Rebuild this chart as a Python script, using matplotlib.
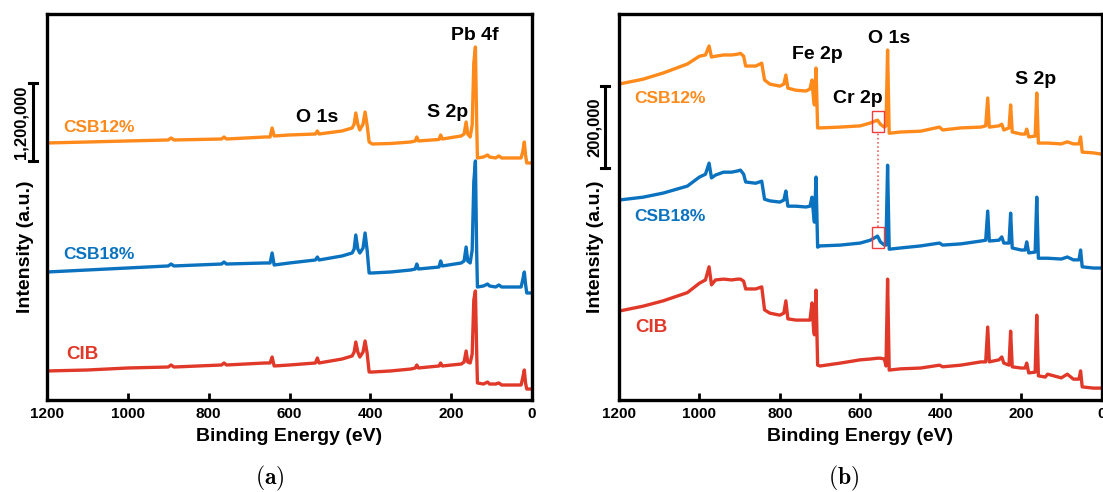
"""
XPS survey spectra of the three coatings.
(a) wide scan dominated by Pb 4f, (b) wide scan with Fe 2p / O 1s / S 2p.
"""

import matplotlib.pyplot as plt
import matplotlib.transforms as mtransforms
from matplotlib.patches import Rectangle

plt.rcParams["font.family"] = ["Liberation Sans", "DejaVu Sans"]
plt.rcParams["font.weight"] = "bold"
plt.rcParams["mathtext.fontset"] = "cm"

# 1. Data (binding energy in eV, intensity in kcounts, spectra already stacked)

# panel (a)
energy_a = [1200, 1100, 1000, 900, 893, 886, 768, 762, 756, 660, 648, 643, 638, 600,
            536, 531, 527, 470, 445, 440, 436, 431, 426, 418, 413, 408, 403, 395,
            350, 300, 289, 285, 281, 230, 226, 222, 175, 168, 163, 159, 153, 148,
            144, 140, 137, 135, 120, 110, 105, 90, 82, 75, 27, 23, 19, 16, 13, 0]

csb12_a = [3958, 3973, 3989, 4004, 4035, 4004, 4019, 4050, 4019, 4050, 4050, 4189, 4066, 4081,
           4096, 4143, 4096, 4143, 4189, 4250, 4420, 4250, 4158, 4250, 4435, 4235, 3973, 3942,
           3950, 3973, 3989, 4050, 3989, 4012, 4081, 4019, 4066, 4096, 4281, 4096, 4050, 4235,
           5190, 5436, 4312, 3727, 3742, 3773, 3742, 3727, 3758, 3727, 3727, 3819, 3973, 3773, 3650, 3650]

csb18_a = [1971, 2002, 2033, 2064, 2094, 2064, 2094, 2125, 2094, 2110, 2110, 2264, 2079, 2110,
           2156, 2202, 2156, 2218, 2264, 2325, 2541, 2325, 2264, 2341, 2572, 2310, 1956, 1956,
           1971, 2002, 2017, 2094, 2017, 2048, 2141, 2064, 2110, 2141, 2356, 2141, 2110, 2310,
           3357, 3681, 2310, 1740, 1756, 1786, 1756, 1740, 1771, 1740, 1740, 1848, 1971, 1786, 1648, 1648]

cib_a = [447, 462, 493, 508, 539, 508, 539, 570, 539, 570, 570, 662, 524, 539,
         570, 647, 570, 631, 678, 739, 893, 739, 662, 739, 909, 724, 431, 431,
         447, 477, 493, 539, 493, 524, 570, 524, 554, 585, 755, 585, 570, 708,
         1540, 1679, 770, 262, 246, 277, 246, 246, 262, 231, 231, 339, 462, 262, 169, 169]

# panel (b)
energy_b = [1200, 1140, 1090, 1030, 1000, 985, 976, 970, 960, 940, 920, 905, 898, 890, 885, 860,
            845, 838, 825, 800, 790, 785, 780, 760, 735, 725, 720, 716, 714, 710, 706,
            700, 650, 600, 575, 557, 550, 540, 536, 532, 528, 500, 450, 403, 395, 350,
            300, 288, 283, 279, 255, 248, 243, 230, 226, 222, 200, 190, 186, 181, 165,
            161, 157, 140, 134, 100, 85, 70, 56, 52, 48, 20, 0]

csb12_b = [771, 783, 798, 820, 839, 842, 864, 837, 839, 842, 842, 844, 846, 839, 815, 815,
           822, 781, 771, 766, 771, 793, 761, 756, 754, 759, 781, 732, 720, 810, 664,
           664, 666, 669, 676, 683, 673, 666, 669, 854, 651, 654, 656, 666, 659, 664,
           666, 669, 737, 666, 669, 673, 659, 664, 720, 654, 649, 649, 661, 642, 644,
           749, 627, 627, 627, 625, 630, 625, 625, 642, 605, 603, 600]

csb18_b = [488, 495, 505, 522, 544, 551, 578, 542, 549, 556, 556, 559, 561, 551, 532, 529,
           534, 490, 486, 483, 488, 510, 473, 473, 471, 473, 495, 451, 434, 544, 373,
           376, 378, 383, 390, 400, 386, 378, 378, 573, 368, 371, 376, 383, 378, 381,
           388, 390, 461, 388, 390, 398, 383, 383, 456, 371, 366, 366, 386, 359, 361,
           495, 346, 346, 346, 344, 349, 342, 342, 366, 325, 322, 322]

cib_b = [217, 229, 242, 262, 285, 293, 325, 281, 293, 295, 293, 295, 295, 290, 271, 271,
         276, 220, 212, 207, 212, 242, 198, 195, 195, 195, 237, 171, 159, 268, 85,
         83, 90, 98, 100, 102, 102, 100, 83, 295, 73, 76, 78, 85, 81, 85,
         93, 93, 178, 93, 98, 105, 90, 85, 168, 81, 78, 78, 90, 66, 68,
         207, 59, 56, 63, 54, 63, 51, 51, 71, 32, 29, 29]

# scale bars (kcounts)
bar_a = (3680, 4880)   # 1,200,000 counts
bar_b = (566, 766)     # 200,000 counts

# Cr 2p region marked on CSB12% and CSB18%
cr_window = (542, 571)
cr_boxes = [(654, 705), (371, 422)]

# 2. Style
c_orange = "#FF8A1C"
c_blue = "#0A72BE"
c_red = "#E0392A"
line_w = 2.4
label_fs = 12.5
peak_fs = 14

fig = plt.figure(figsize=(11.03, 4.92), dpi=100)
ax_a = fig.add_axes([47 / 1103, 92 / 492, 485 / 1103, 386 / 492])
ax_b = fig.add_axes([619 / 1103, 92 / 492, 482.5 / 1103, 386 / 492])


def style_axes(ax, ymax):
    ax.set_xlim(1200, 0)
    ax.set_ylim(0, ymax)
    ax.set_xticks([1200, 1000, 800, 600, 400, 200, 0])
    ax.set_yticks([])
    ax.tick_params(axis="x", direction="in", length=5, width=2, labelsize=11, pad=5)
    for lab in ax.get_xticklabels():
        lab.set_fontweight("bold")
    for sp in ax.spines.values():
        sp.set_linewidth(2.4)
    ax.set_xlabel("Binding Energy (eV)", fontsize=14, fontweight="bold", labelpad=5)


def scale_bar(ax, lo, hi, x_bar, x_text, text):
    trans = mtransforms.blended_transform_factory(ax.transAxes, ax.transData)
    ax.plot([x_bar, x_bar], [lo, hi], color="black", lw=2.2, transform=trans, clip_on=False)
    for yy in (lo, hi):
        ax.plot([x_bar - 0.009, x_bar + 0.009], [yy, yy], color="black", lw=2.2,
                transform=trans, clip_on=False)
    ax.text(x_text, (lo + hi) / 2, text, transform=trans, rotation=90, ha="center",
            va="center", fontsize=12, fontweight="bold")


# 3. Panel (a)
ax_a.plot(energy_a, csb12_a, color=c_orange, lw=line_w)
ax_a.plot(energy_a, csb18_a, color=c_blue, lw=line_w)
ax_a.plot(energy_a, cib_a, color=c_red, lw=line_w)
style_axes(ax_a, 5944)

ax_a.text(1160, 4189, "CSB12%", color=c_orange, fontsize=label_fs, ha="left", va="center")
ax_a.text(1160, 2248, "CSB18%", color=c_blue, fontsize=label_fs, ha="left", va="center")
ax_a.text(1153, 693, "CIB", color=c_red, fontsize=label_fs + 1, ha="left", va="center")
ax_a.text(532, 4343, "O 1s", fontsize=peak_fs, ha="center", va="center")
ax_a.text(210, 4420, "S 2p", fontsize=peak_fs, ha="center", va="center")
ax_a.text(141, 5606, "Pb 4f", fontsize=peak_fs, ha="center", va="center")

scale_bar(ax_a, bar_a[0], bar_a[1], -0.029, -0.054, "1,200,000")

# 4. Panel (b)
ax_b.plot(energy_b, csb12_b, color=c_orange, lw=line_w)
ax_b.plot(energy_b, csb18_b, color=c_blue, lw=line_w)
ax_b.plot(energy_b, cib_b, color=c_red, lw=line_w)
style_axes(ax_b, 942)

ax_b.text(1163, 737, "CSB12%", color=c_orange, fontsize=label_fs, ha="left", va="center")
ax_b.text(1163, 447, "CSB18%", color=c_blue, fontsize=label_fs, ha="left", va="center")
ax_b.text(1160, 176, "CIB", color=c_red, fontsize=label_fs + 1, ha="left", va="center")
ax_b.text(706, 842, "Fe 2p", fontsize=peak_fs, ha="center", va="center")
ax_b.text(529, 883, "O 1s", fontsize=peak_fs, ha="center", va="center")
ax_b.text(606, 737, "Cr 2p", fontsize=peak_fs, ha="center", va="center")
ax_b.text(164, 783, "S 2p", fontsize=peak_fs, ha="center", va="center")

# Cr 2p boxes and the dotted guide between them
for lo, hi in cr_boxes:
    ax_b.add_patch(Rectangle((cr_window[0], lo), cr_window[1] - cr_window[0], hi - lo,
                             fill=False, edgecolor="#F03C3C", lw=1.0, zorder=4))
cr_mid = (cr_window[0] + cr_window[1]) / 2
ax_b.plot([cr_mid, cr_mid], [cr_boxes[1][1], cr_boxes[0][0]], color="#F06060",
          lw=1.2, linestyle=(0, (1, 1.5)), zorder=4)

scale_bar(ax_b, bar_b[0], bar_b[1], -0.029, -0.050, "200,000")

# 5. Shared labels
for xpix in (25, 596):
    fig.text(xpix / 1103, 1 - 247 / 492, "Intensity (a.u.)", rotation=90, ha="center",
             va="center", fontsize=14, fontweight="bold")

fig.text(270 / 1103, 1 - 478 / 492, r"$(\mathbf{a})$", ha="center", va="center", fontsize=17)
fig.text(844 / 1103, 1 - 478 / 492, r"$(\mathbf{b})$", ha="center", va="center", fontsize=17)

fig.savefig("out.png", dpi=100)
